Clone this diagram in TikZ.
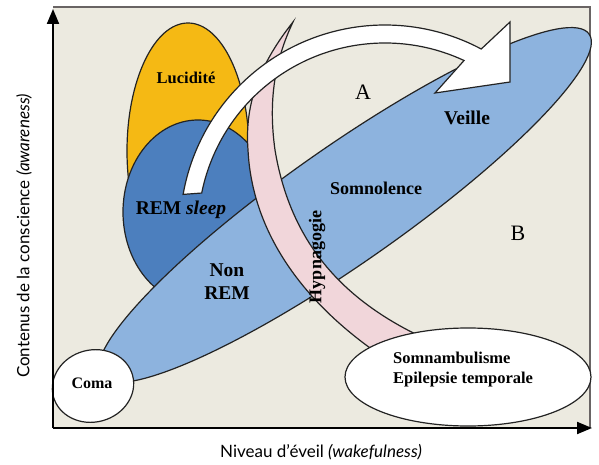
\documentclass[tikz,border=0pt]{standalone}
\usepackage{fontspec}
\setmainfont{Liberation Serif}
\newfontfamily\axisfont{Lato}
\usetikzlibrary{arrows.meta,calc}
\definecolor{fond}{RGB}{236,234,224}
\definecolor{jaune}{RGB}{245,185,20}
\definecolor{bleufonce}{RGB}{76,127,190}
\definecolor{bleuclair}{RGB}{141,179,222}
\definecolor{rose}{RGB}{241,214,218}
\definecolor{trait}{RGB}{35,35,35}
\definecolor{cadre}{RGB}{105,100,100}

\begin{document}
\begin{tikzpicture}[x=1pt,y=1pt,
  zone/.style={draw=trait,line width=1.2pt},
  etiq/.style={font=\bfseries\fontsize{#1}{#1}\selectfont,inner sep=0pt},
  lettre/.style={font=\fontsize{22}{22}\selectfont,inner sep=0pt},
  axe/.style={line width=2pt,-{Triangle[length=15pt,width=12pt]}},
  legende/.style={font=\axisfont\fontsize{17}{17}\selectfont,inner sep=0pt}]
\useasboundingbox (0,0) rectangle (599,464);
\fill[fond] (53,36) rectangle (590,457);
\draw[cadre,line width=1.5pt] (53,457) -- (590,457) -- (590,36);

\filldraw[zone,fill=jaune] (188,313) ellipse [x radius=61,y radius=128];
\filldraw[zone,fill=bleufonce] (198,252) ellipse [x radius=75,y radius=92];
\filldraw[zone,fill=bleuclair,rotate around={35:(345,259)}] (345,259) ellipse [x radius=298,y radius=58];
\filldraw[zone,fill=rose] (293,442) .. controls (255,394) and (245,354) .. (248,314)
  .. controls (252,234) and (300,164) .. (380,109) -- (428,124)
  .. controls (340,164) and (290,224) .. (275,314)
  .. controls (268,364) and (275,404) .. (293,442) -- cycle;
\coordinate (ac) at (385,234);
\filldraw[zone,fill=white] ($(ac)+(170:205)$) arc [start angle=170,end angle=62,radius=205]
  -- (510,442) -- (510,382) -- (435,371)
  -- ($(ac)+(65:187)$) arc [start angle=65,end angle=168.6,radius=187] -- cycle;
\filldraw[zone,fill=white,rotate around={15:(93,78)}] (93,78) ellipse [x radius=41,y radius=36];
\filldraw[zone,fill=white] (468,87) ellipse [x radius=123,y radius=49];

\node[etiq=16.5] (lucid) at (186,386) {Lucidité};
\node[etiq=19.5] (rem) at (181,254) {REM \textit{sleep}};
\node[font=\bfseries\fontsize{19.5}{23}\selectfont,inner sep=0pt,align=center] (nonrem) at (227,182) {Non\\REM};
\node[etiq=18] (somno) at (376,276) {Somnolence};
\node[etiq=19.5] (veille) at (467,346) {Veille};
\node[lettre] (zonea) at (363,372) {A};
\node[lettre] (zoneb) at (518,231) {B};
\node[etiq=18,rotate=90] (hypno) at (317,207) {Hypnagogie};
\node[etiq=16] (coma) at (92,81) {Coma};
\node[font=\bfseries\fontsize{16.5}{20}\selectfont,inner sep=0pt,align=left,anchor=west] (somnam) at (393,94) {Somnambulisme\\Epilepsie temporale};

\coordinate (o) at (53,36);
\coordinate (haut) at (53,455);
\coordinate (droite) at (592,36);
\draw[axe] (o) -- (haut);
\draw[axe] (o) -- (droite);
\node[legende,rotate=90] (conscience) at (24,228) {Contenus de la conscience \textit{(awareness)}};
\node[legende] (eveil) at (321,12) {Niveau d’éveil \textit{(wakefulness)}};
\end{tikzpicture}
\end{document}
